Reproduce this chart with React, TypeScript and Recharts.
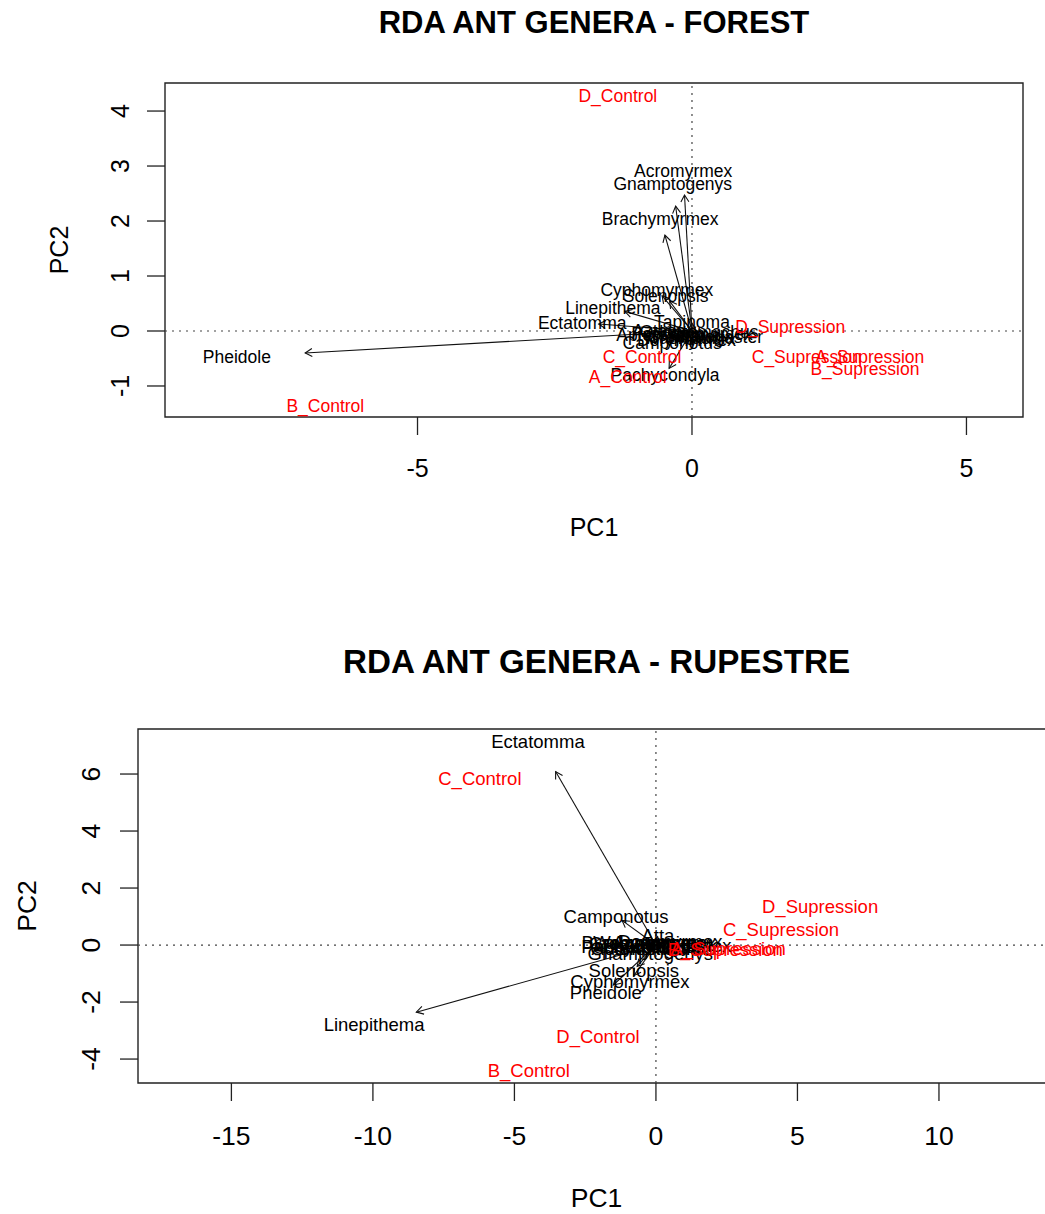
import React from 'react';
import { ScatterChart, Scatter, XAxis, YAxis, ReferenceLine, ReferenceArea, Label } from 'recharts';

const FONT = '"Liberation Sans", Arial, Helvetica, sans-serif';
const ARROW_FRACTION = 0.85; // vegan biplot draws arrows to 85% of the species score

// ---------- FOREST ----------
const forestSpeciesNames = [
  'Acromyrmex', 'Gnamptogenys', 'Brachymyrmex', 'Cyphomyrmex', 'Solenopsis', 'Linepithema',
  'Ectatomma', 'Pheidole', 'Tapinoma', 'Pachycondyla', 'Camponotus', 'Crematogaster',
  'Odontomachus', 'Apterostigma', 'Azteca', 'Atta', 'Pseudomyrmex', 'Dorymyrmex', 'Wasmannia',
];
const forestSpeciesPC1 = [-0.16, -0.35, -0.58, -0.64, -0.48, -1.44, -2.0, -8.29, 0.0, -0.49, -0.36, 0.24, 0.13, -0.44, -0.6, -0.15, 0.0, -0.1, -0.05];
const forestSpeciesPC2 = [2.91, 2.67, 2.05, 0.75, 0.64, 0.42, 0.15, -0.47, 0.17, -0.8, -0.22, -0.11, -0.02, -0.07, 0.01, -0.08, -0.05, -0.15, -0.12];
const forestSiteNames = ['D_Control', 'B_Control', 'C_Control', 'A_Control', 'D_Supression', 'C_Supression', 'A_Supression', 'B_Supression'];
const forestSitePC1 = [-1.35, -6.68, -0.91, -1.17, 1.79, 2.09, 3.24, 3.15];
const forestSitePC2 = [4.27, -1.35, -0.47, -0.84, 0.07, -0.47, -0.47, -0.69];
const forestXTicks = [-5, 0, 5];
const forestYTicks = [-1, 0, 1, 2, 3, 4];
const forestXDomain = [-9.6, 6.03];
const forestYDomain = [-1.564, 4.51];

// ---------- RUPESTRE ----------
const rupSpeciesNames = [
  'Ectatomma', 'Linepithema', 'Camponotus', 'Atta', 'Solenopsis', 'Cyphomyrmex', 'Pheidole',
  'Gnamptogenys', 'Brachymyrmex', 'Dorymyrmex', 'Crematogaster', 'Acromyrmex', 'Pachycondyla',
  'Odontomachus', 'Tapinoma', 'Pseudomyrmex', 'Wasmannia', 'Apterostigma',
];
const rupSpeciesPC1 = [-4.17, -9.96, -1.41, 0.07, -0.78, -0.92, -1.77, -0.2, -0.45, 0.5, -0.2, 0.3, -0.6, -0.1, 0.2, 0.4, -0.5, -0.35];
const rupSpeciesPC2 = [7.16, -2.77, 1.02, 0.35, -0.88, -1.26, -1.65, -0.28, 0.1, 0.12, 0.05, 0.08, -0.05, -0.1, -0.05, 0.0, 0.1, -0.12];
const rupSiteNames = ['C_Control', 'D_Supression', 'C_Supression', 'A_Supression', 'B_Supression', 'D_Control', 'B_Control'];
const rupSitePC1 = [-6.22, 5.8, 4.42, 2.55, 2.45, -2.05, -4.49];
const rupSitePC2 = [5.86, 1.37, 0.56, -0.12, -0.15, -3.19, -4.39];
const rupXTicks = [-15, -10, -5, 0, 5, 10];
const rupYTicks = [-4, -2, 0, 2, 4, 6];
const rupXDomain = [-18.3, 14.1];
const rupYDomain = [-4.84, 7.58];

const toPoints = (names: string[], xs: number[], ys: number[]) =>
  names.map((name, i) => ({ name, x: xs[i], y: ys[i] }));

const arrowShape = (p: any) => {
  const { x1, y1, x2, y2 } = p;
  if ([x1, y1, x2, y2].some((v) => v == null || isNaN(v))) return null;
  const ang = Math.atan2(y2 - y1, x2 - x1);
  const L = 8;
  const a = Math.PI / 6;
  const h1x = x2 - L * Math.cos(ang - a);
  const h1y = y2 - L * Math.sin(ang - a);
  const h2x = x2 - L * Math.cos(ang + a);
  const h2y = y2 - L * Math.sin(ang + a);
  return (
    <g>
      <line x1={x1} y1={y1} x2={x2} y2={y2} stroke="#111" strokeWidth={1.1} />
      <polyline points={`${h1x},${h1y} ${x2},${y2} ${h2x},${h2y}`} fill="none" stroke="#111" strokeWidth={1.1} />
    </g>
  );
};

const makeLabelShape = (fs: number, color: string) => (props: any) => {
  const { cx, cy, payload } = props;
  if (cx == null || cy == null) return <g />;
  return (
    <text x={cx} y={cy} dy="0.36em" textAnchor="middle" fontSize={fs} fill={color} fontFamily={FONT}>
      {payload.name}
    </text>
  );
};

const makeYTick = (fs: number) => (props: any) => {
  const { x, y, payload } = props;
  return (
    <text transform={`translate(${x},${y}) rotate(-90)`} textAnchor="middle" dy="0.36em" fontSize={fs} fill="#000" fontFamily={FONT}>
      {payload.value}
    </text>
  );
};

type PlotProps = {
  title: string;
  spNames: string[]; spX: number[]; spY: number[];
  stNames: string[]; stX: number[]; stY: number[];
  xDomain: number[]; yDomain: number[]; xTicks: number[]; yTicks: number[];
  width: number; height: number;
  margin: { top: number; right: number; bottom: number; left: number };
  fs: number; labelFs: number; titleFs: number; titleY: number;
  xTickMargin: number; yTickMargin: number; xTitleOffset: number; yTitleOffset: number;
  top: number;
};

const YAXIS_W = 130;
const XAXIS_H = 130;
const TICK = 18;

function RdaPlot(p: PlotProps) {
  const species = toPoints(p.spNames, p.spX, p.spY);
  const sites = toPoints(p.stNames, p.stX, p.stY);
  const plotLeft = p.margin.left + YAXIS_W;
  const plotRight = p.width - p.margin.right;
  const titleX = (plotLeft + plotRight) / 2;
  return (
    <div style={{ position: 'absolute', left: 0, top: p.top, width: p.width, height: p.height }}>
      <ScatterChart width={p.width} height={p.height} margin={p.margin} style={{ fontFamily: FONT }}>
        <XAxis
          type="number" dataKey="x" domain={p.xDomain} ticks={p.xTicks} allowDataOverflow interval={0}
          height={XAXIS_H} axisLine={false} tickLine={{ stroke: '#222', strokeWidth: 1.3 }} tickSize={TICK}
          tickMargin={p.xTickMargin} tick={{ fill: '#000', fontSize: p.fs, fontFamily: FONT }}
        >
          <Label
            content={(lp: any) => {
              const vb = lp.viewBox || {};
              return (
                <text x={vb.x + vb.width / 2} y={vb.y + p.xTitleOffset} dy="0.36em" textAnchor="middle" fontSize={p.fs} fill="#000" fontFamily={FONT}>
                  PC1
                </text>
              );
            }}
          />
        </XAxis>
        <YAxis
          type="number" dataKey="y" domain={p.yDomain} ticks={p.yTicks} allowDataOverflow interval={0}
          width={YAXIS_W} axisLine={false} tickLine={{ stroke: '#222', strokeWidth: 1.3 }} tickSize={TICK}
          tickMargin={p.yTickMargin} tick={makeYTick(p.fs)}
        >
          <Label
            content={(lp: any) => {
              const vb = lp.viewBox || {};
              const cx = vb.x + vb.width - p.yTitleOffset;
              const cy = vb.y + vb.height / 2;
              return (
                <text transform={`translate(${cx},${cy}) rotate(-90)`} dy="0.36em" textAnchor="middle" fontSize={p.fs} fill="#000" fontFamily={FONT}>
                  PC2
                </text>
              );
            }}
          />
        </YAxis>
        <ReferenceArea
          x1={p.xDomain[0]} x2={p.xDomain[1]} y1={p.yDomain[0]} y2={p.yDomain[1]}
          fill="none" fillOpacity={0} stroke="#222" strokeWidth={1.4} ifOverflow="visible"
        />
        <ReferenceLine x={0} stroke="#444" strokeWidth={1.2} strokeDasharray="2 5" />
        <ReferenceLine y={0} stroke="#444" strokeWidth={1.2} strokeDasharray="2 5" />
        {species.map((s) => (
          <ReferenceLine
            key={'arr-' + s.name}
            segment={[{ x: 0, y: 0 }, { x: s.x * ARROW_FRACTION, y: s.y * ARROW_FRACTION }]}
            stroke="#111"
            ifOverflow="visible"
            shape={arrowShape}
          />
        ))}
        <Scatter data={species} isAnimationActive={false} shape={makeLabelShape(p.labelFs, '#000')} />
        <Scatter data={sites} isAnimationActive={false} shape={makeLabelShape(p.labelFs, '#ff0000')} />
      </ScatterChart>
      <svg width={p.width} height={p.height} style={{ position: 'absolute', left: 0, top: 0, pointerEvents: 'none' }}>
        <text x={titleX} y={p.titleY} dy="0.36em" textAnchor="middle" fontSize={p.titleFs} fontWeight="bold" fill="#000" fontFamily={FONT}>
          {p.title}
        </text>
      </svg>
    </div>
  );
}

export default function App() {
  return (
    <div style={{ position: 'absolute', left: 0, top: 0, width: 1045, height: 1214, overflow: 'hidden', background: '#fff' }}>
      <RdaPlot
        title="RDA ANT GENERA - FOREST"
        spNames={forestSpeciesNames} spX={forestSpeciesPC1} spY={forestSpeciesPC2}
        stNames={forestSiteNames} stX={forestSitePC1} stY={forestSitePC2}
        xDomain={forestXDomain} yDomain={forestYDomain} xTicks={forestXTicks} yTicks={forestYTicks}
        width={1045} height={570} margin={{ top: 83, right: 22, bottom: 23, left: 35 }}
        fs={25} labelFs={17.5} titleFs={31} titleY={22}
        xTickMargin={24} yTickMargin={27} xTitleOffset={110} yTitleOffset={106}
        top={0}
      />
      <RdaPlot
        title="RDA ANT GENERA - RUPESTRE"
        spNames={rupSpeciesNames} spX={rupSpeciesPC1} spY={rupSpeciesPC2}
        stNames={rupSiteNames} stX={rupSitePC1} stY={rupSitePC2}
        xDomain={rupXDomain} yDomain={rupYDomain} xTicks={rupXTicks} yTicks={rupYTicks}
        width={1077} height={594} margin={{ top: 109, right: 22, bottom: 1, left: 8 }}
        fs={26.5} labelFs={18.5} titleFs={33.2} titleY={41}
        xTickMargin={25} yTickMargin={30} xTitleOffset={114} yTitleOffset={112}
        top={620}
      />
    </div>
  );
}
